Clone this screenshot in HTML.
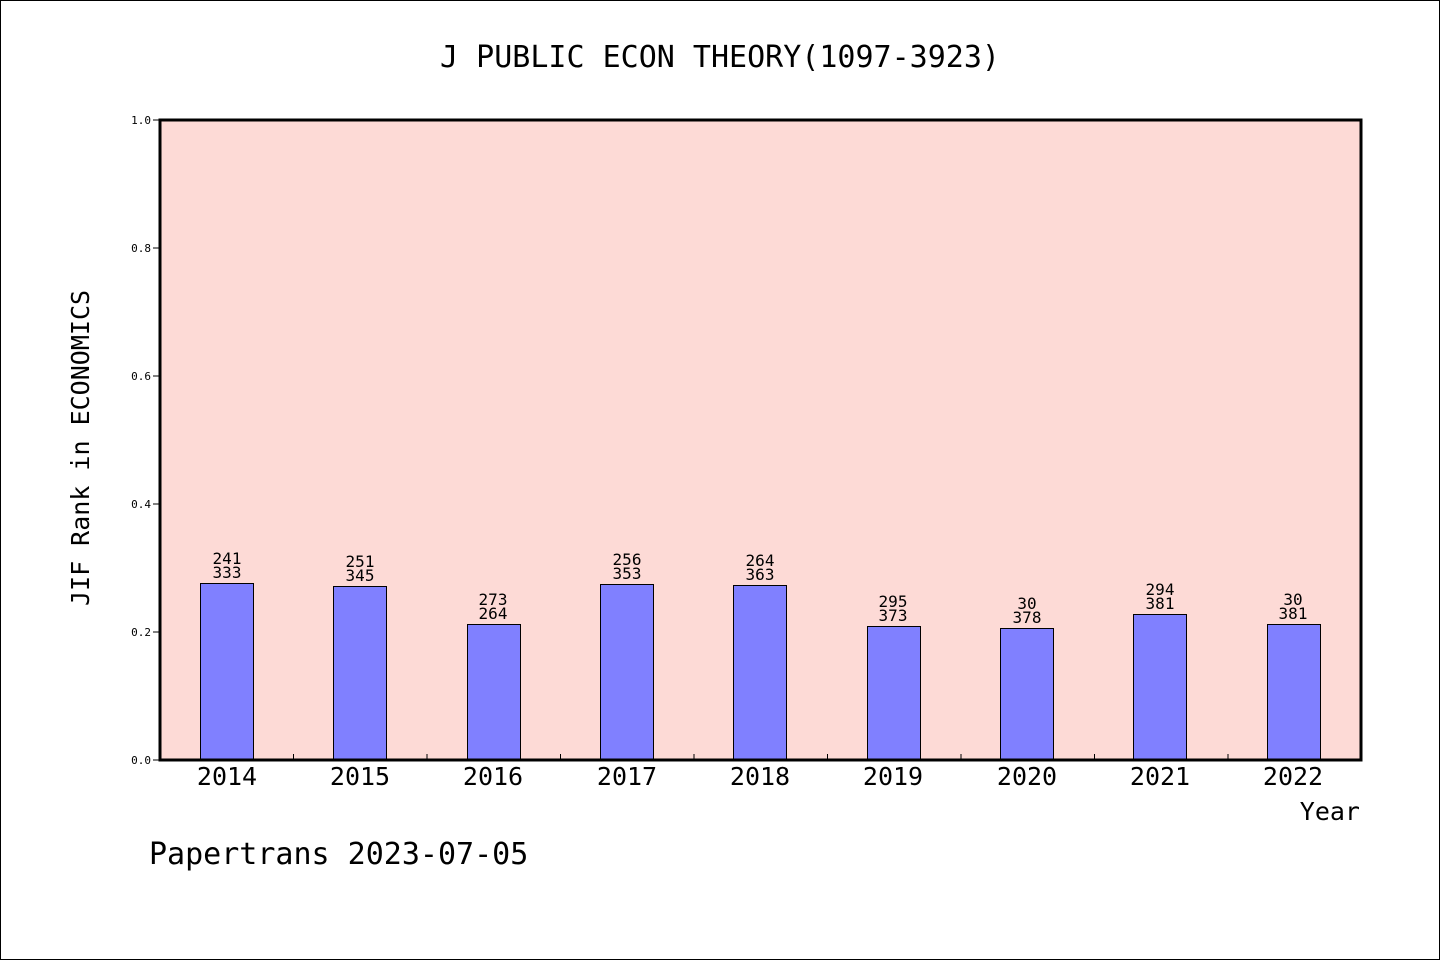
<!DOCTYPE html>
<html><head><style>body{margin:0;background:#fff}svg{display:block}text{font-family:"WenQuanYi Zen Hei","DejaVu Sans Mono",monospace;fill:#000}</style></head><body>
<svg width="1440" height="960" viewBox="0 0 1440 960" xmlns="http://www.w3.org/2000/svg">
<rect x="0.5" y="0.5" width="1439" height="959" fill="#fff" stroke="#000"/>
<text x="720" y="67" font-size="30" text-anchor="middle">J PUBLIC ECON THEORY(1097-3923)</text>
<rect x="160" y="120" width="1201" height="640" fill="#fddad6"/>
<g stroke="#000" stroke-width="1">
<line x1="153" y1="120" x2="160" y2="120"/><line x1="153" y1="248" x2="160" y2="248"/><line x1="153" y1="376" x2="160" y2="376"/><line x1="153" y1="504" x2="160" y2="504"/><line x1="153" y1="632" x2="160" y2="632"/><line x1="153" y1="760" x2="160" y2="760"/>
<line x1="293.5" y1="754" x2="293.5" y2="760"/><line x1="427" y1="754" x2="427" y2="760"/><line x1="560.5" y1="754" x2="560.5" y2="760"/><line x1="694" y1="754" x2="694" y2="760"/><line x1="827.5" y1="754" x2="827.5" y2="760"/><line x1="961" y1="754" x2="961" y2="760"/><line x1="1094.5" y1="754" x2="1094.5" y2="760"/><line x1="1228" y1="754" x2="1228" y2="760"/>
</g>
<g font-size="11" text-anchor="end" style="font-family:'Liberation Sans',sans-serif">
<text x="151" y="124">1.0</text><text x="151" y="252">0.8</text><text x="151" y="380">0.6</text><text x="151" y="508">0.4</text><text x="151" y="636">0.2</text><text x="151" y="764">0.0</text>
</g>
<g fill="#8080ff" stroke="#000" stroke-width="1">
<rect x="200.5" y="583.5" width="53" height="177"/>
<rect x="333.5" y="586.5" width="53" height="174"/>
<rect x="467.5" y="624.5" width="53" height="136"/>
<rect x="600.5" y="584.5" width="53" height="176"/>
<rect x="733.5" y="585.5" width="53" height="175"/>
<rect x="867.5" y="626.5" width="53" height="134"/>
<rect x="1000.5" y="628.5" width="53" height="132"/>
<rect x="1133.5" y="614.5" width="53" height="146"/>
<rect x="1267.5" y="624.5" width="53" height="136"/>
</g>
<g font-size="16" text-anchor="middle">
<text x="227" y="564">241</text><text x="227" y="578">333</text>
<text x="360" y="567">251</text><text x="360" y="581">345</text>
<text x="493" y="605">273</text><text x="493" y="619">264</text>
<text x="627" y="565">256</text><text x="627" y="579">353</text>
<text x="760" y="566">264</text><text x="760" y="580">363</text>
<text x="893" y="607">295</text><text x="893" y="621">373</text>
<text x="1027" y="609">30</text><text x="1027" y="623">378</text>
<text x="1160" y="595">294</text><text x="1160" y="609">381</text>
<text x="1293" y="605">30</text><text x="1293" y="619">381</text>
</g>
<rect x="160" y="120" width="1201" height="640" fill="none" stroke="#000" stroke-width="3"/>
<g font-size="25" text-anchor="middle">
<text x="227" y="785">2014</text><text x="360" y="785">2015</text><text x="493" y="785">2016</text><text x="627" y="785">2017</text><text x="760" y="785">2018</text><text x="893" y="785">2019</text><text x="1027" y="785">2020</text><text x="1160" y="785">2021</text><text x="1293" y="785">2022</text>
</g>
<text x="1360" y="820" font-size="25" text-anchor="end">Year</text>
<text transform="translate(89,448) rotate(-90)" font-size="25" text-anchor="middle">JIF Rank in ECONOMICS</text>
<text x="149" y="864" font-size="30">Papertrans 2023-07-05</text>
</svg>
</body></html>
